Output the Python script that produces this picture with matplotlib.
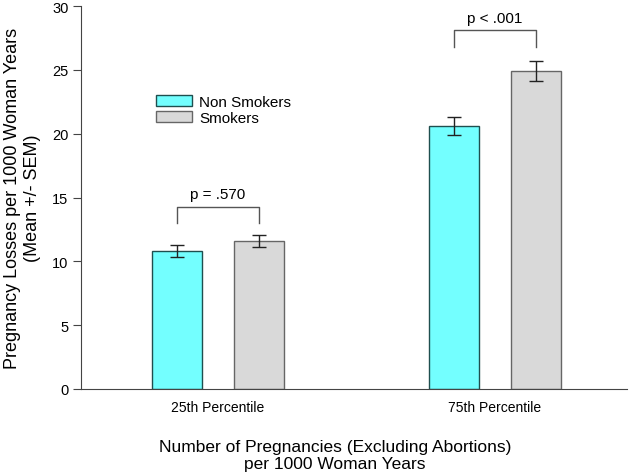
import numpy as np
import matplotlib.pyplot as plt
from matplotlib.patches import Patch

plt.rcParams['font.family'] = ['Liberation Sans', 'DejaVu Sans']

# datos
groups = ['25th Percentile', '75th Percentile']
non_smokers = [10.8, 20.6]
non_smokers_sem = [0.45, 0.7]
smokers = [11.6, 24.9]
smokers_sem = [0.45, 0.8]
p_labels = ['p = .570', 'p < .001']
bracket_y = [14.3, 28.1]

x = np.arange(len(groups))
w = 0.18
off = 0.148

fig = plt.figure(figsize=(6.3, 4.77), dpi=100)
ax = fig.add_axes([0.1286, 0.1824, 0.8664, 0.8026])

ax.bar(x - off, non_smokers, w, color='#73FFFF', edgecolor='#1f4f4f', linewidth=1.0)
ax.bar(x + off, smokers, w, color='#D9D9D9', edgecolor='#666666', linewidth=1.0)
ax.errorbar(x - off, non_smokers, yerr=non_smokers_sem, fmt='none', ecolor='#222222',
            elinewidth=1.0, capsize=5, capthick=1.0)
ax.errorbar(x + off, smokers, yerr=smokers_sem, fmt='none', ecolor='#222222',
            elinewidth=1.0, capsize=5, capthick=1.0)

# corchetes de significancia
for i in range(len(groups)):
    yb = bracket_y[i]
    ax.plot([x[i] - off, x[i] - off, x[i] + off, x[i] + off],
            [yb - 1.3, yb, yb, yb - 1.3], color='#555555', lw=1.0)
    ax.text(x[i], yb + 0.45, p_labels[i], ha='center', va='bottom', fontsize=11)

ax.set_xlim(-0.495, 1.477)
ax.set_ylim(0, 30)
ax.set_yticks([0, 5, 10, 15, 20, 25, 30])
ax.set_xticks(x)
ax.set_xticklabels(groups, fontsize=10)
ax.tick_params(axis='x', length=0, pad=8)
ax.tick_params(axis='y', labelsize=10.5, direction='out', length=5.5, color='#444444')
ax.spines['top'].set_visible(False)
ax.spines['right'].set_visible(False)
ax.spines['left'].set_color('#444444')
ax.spines['bottom'].set_color('#444444')

ax.set_ylabel('Pregnancy Losses per 1000 Woman Years\n(Mean +/- SEM)', fontsize=13,
              labelpad=8)
ax.set_xlabel('Number of Pregnancies (Excluding Abortions)\nper 1000 Woman Years',
              fontsize=12.5)
ax.xaxis.set_label_coords(0.465, -0.13)
ax.xaxis.label.set_va('top')

handles = [Patch(facecolor='#73FFFF', edgecolor='#1f4f4f'),
           Patch(facecolor='#D9D9D9', edgecolor='#666666')]
ax.legend(handles, ['Non Smokers', 'Smokers'], loc='upper left',
          bbox_to_anchor=(0.127, 0.785), frameon=False, fontsize=11,
          handlelength=2.3, handleheight=0.7, handletextpad=0.5,
          labelspacing=0.15, borderaxespad=0)

fig.savefig('out.png', dpi=100)
